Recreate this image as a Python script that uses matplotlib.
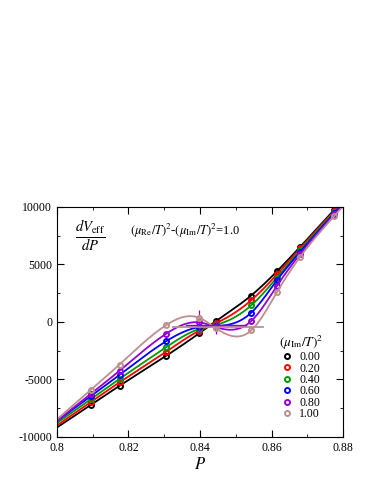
import numpy as np
import matplotlib
matplotlib.use('Agg')
import matplotlib.pyplot as plt

plt.rcParams['font.family'] = ['Liberation Serif', 'DejaVu Serif']
plt.rcParams['mathtext.fontset'] = 'stix'
plt.rcParams['axes.unicode_minus'] = False

# data
P = [0.8095, 0.8175, 0.8305, 0.8397, 0.8445, 0.8543, 0.8615, 0.868, 0.8775]
mu_im2 = ['0.00', '0.20', '0.40', '0.60', '0.80', '1.00']
v000 = [-7200, -5550, -2950, -1000, 80, 2300, 4400, 6530, 9750]
v020 = [-6950, -5250, -2600, -780, -100, 1880, 4130, 6400, 9650]
v040 = [-6700, -4950, -2200, -620, -250, 1440, 3860, 6250, 9550]
v060 = [-6450, -4600, -1680, -450, -350, 800, 3620, 6100, 9450]
v080 = [-6250, -4240, -1030, -30, -450, 70, 3130, 5900, 9350]
v100 = [-5900, -3700, -280, 370, -550, -740, 2580, 5660, 9200]
err080 = [0, 0, 0, 1100, 600, 0, 0, 0, 0]
err100 = [0, 0, 0, 300, 200, 0, 0, 0, 0]
# horizontal (equal area) lines: P range and level
hl080 = [0.836, 0.853, -300]
hl100 = [0.8325, 0.8577, -400]

series = [v000, v020, v040, v060, v080, v100]
errs = [None, None, None, None, err080, err100]
colors = ['black', 'red', '#009a00', 'blue', '#9400d3', '#bc8f8f']


def spline(x, y, xs):
    # natural cubic spline, linear outside the points
    x = np.asarray(x, float); y = np.asarray(y, float)
    n = len(x); h = np.diff(x)
    A = np.zeros((n, n)); b = np.zeros(n)
    A[0, 0] = A[-1, -1] = 1
    for i in range(1, n - 1):
        A[i, i - 1] = h[i - 1]; A[i, i] = 2 * (h[i - 1] + h[i]); A[i, i + 1] = h[i]
        b[i] = 3 * ((y[i + 1] - y[i]) / h[i] - (y[i] - y[i - 1]) / h[i - 1])
    c = np.linalg.solve(A, b)
    bb = (y[1:] - y[:-1]) / h - h * (2 * c[:-1] + c[1:]) / 3
    d = (c[1:] - c[:-1]) / (3 * h)
    idx = np.clip(np.searchsorted(x, xs) - 1, 0, n - 2)
    dx = xs - x[idx]
    out = y[idx] + bb[idx] * dx + c[idx] * dx**2 + d[idx] * dx**3
    left = xs < x[0]
    out[left] = y[0] + bb[0] * (xs[left] - x[0])
    sl = bb[-1] + 2 * c[-2] * h[-1] + 3 * d[-1] * h[-1]**2
    right = xs > x[-1]
    out[right] = y[-1] + sl * (xs[right] - x[-1])
    return out


fig = plt.figure(figsize=(3.82, 4.94), dpi=100)
ax = fig.add_axes([0.149, 0.1154, 0.749, 0.4656])

xs = np.linspace(0.8, 0.88, 400)
for v, e, col, lab in zip(series, errs, colors, mu_im2):
    ax.plot(xs, spline(P, v, xs), color=col, lw=1.3)
    if e is not None:
        ax.errorbar(P, v, yerr=e, fmt='none', ecolor=col, elinewidth=0.9)
    ax.plot(P, v, 'o', mfc='none', mec=col, mew=1.4, ms=3.6, label=lab)

ax.plot(hl100[:2], [hl100[2]] * 2, color=colors[5], lw=1.3)
ax.plot(hl080[:2], [hl080[2]] * 2, color=colors[4], lw=1.0)

ax.set_xlim(0.8, 0.88)
ax.set_ylim(-10000, 10000)
ax.set_xticks([0.8, 0.82, 0.84, 0.86, 0.88])
ax.set_xticklabels(['0.8', '0.82', '0.84', '0.86', '0.88'])
ax.set_yticks([-10000, -5000, 0, 5000, 10000])
ax.set_xticks(np.arange(0.81, 0.88, 0.02), minor=True)
ax.set_yticks([-7500, -2500, 2500, 7500], minor=True)
ax.tick_params(which='both', direction='in', top=True, right=True, labelsize=8.5)
ax.tick_params(which='major', length=5)
ax.tick_params(which='minor', length=2.5)
ax.set_xlabel('$P$', fontsize=12, labelpad=2)

ax.text(0.115, 0.875, r'$\frac{dV_{\rm eff}}{dP}$', transform=ax.transAxes,
        fontsize=15, ha='center', va='center')
ax.text(0.255, 0.896, r'$(\mu_{\rm Re}/T)^2$-$(\mu_{\rm Im}/T)^2$=1.0', transform=ax.transAxes,
        fontsize=9, ha='left', va='center')

leg = ax.legend(title=r'$(\mu_{\rm Im}/T)^2$', loc='upper left', bbox_to_anchor=(0.76, 0.47),
                frameon=False, fontsize=8.5, title_fontsize=9.5, handlelength=0.8,
                handletextpad=0.6, labelspacing=-0.05, borderaxespad=0)

fig.savefig('out.png', dpi=100)
